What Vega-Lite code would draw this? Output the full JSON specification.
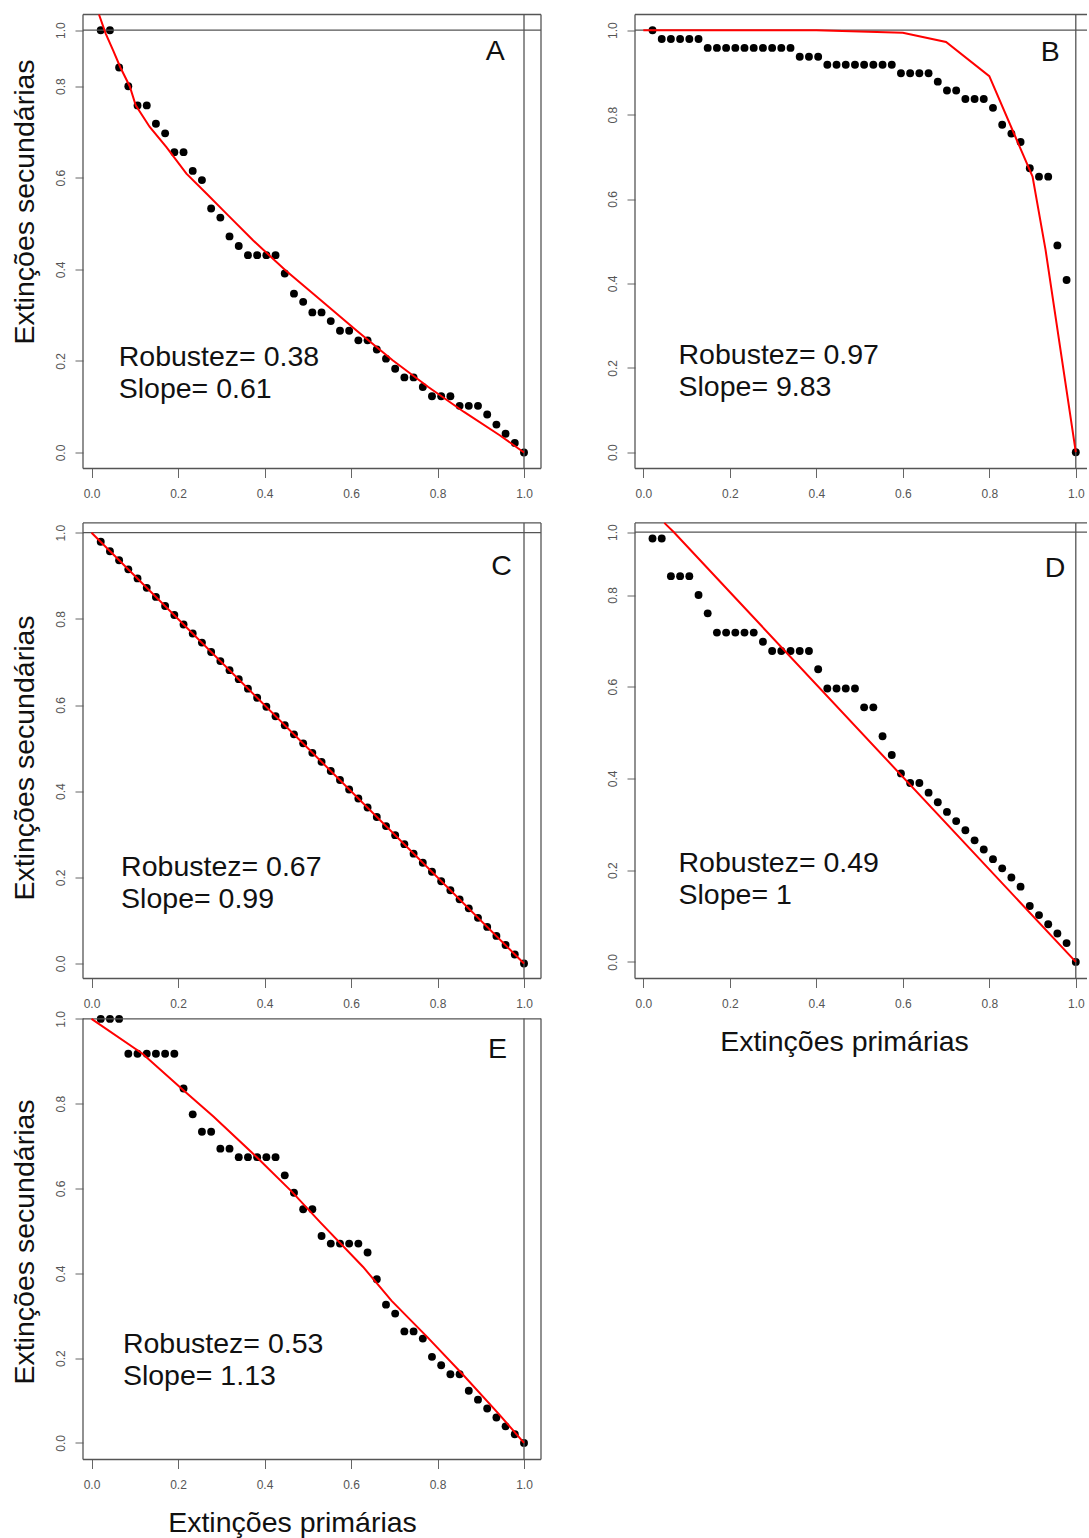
{
  "$schema": "https://vega.github.io/schema/vega-lite/v6.json",
  "background": "white",
  "padding": {"left": 10, "top": 10.5, "right": 0, "bottom": 0},
  "config": {
    "view": {"stroke": null},
    "font": "Liberation Sans",
    "axis": {"domain": false, "grid": false, "labelFont": "Liberation Sans", "labelFontSize": 12, "labelColor": "#555", "tickColor": "#666", "tickWidth": 1, "titleFont": "Liberation Sans", "titleFontSize": 28.5, "titleFontWeight": "normal", "titleColor": "#111", "labelFlush": false, "labelOverlap": false, "labelBound": false},
    "axisX": {"tickSize": 9, "labelPadding": 11, "labelAngle": 0},
    "axisY": {"tickSize": 8, "labelPadding": 8, "labelAngle": -90, "labelAlign": "center", "labelBaseline": "bottom"}
  },
  "datasets": {
    "A": [{"x":0.0213,"y":1},{"x":0.0426,"y":1},{"x":0.0638,"y":0.867},{"x":0.0851,"y":0.8},{"x":0.1064,"y":0.758},{"x":0.1277,"y":0.758},{"x":0.1489,"y":0.718},{"x":0.1702,"y":0.697},{"x":0.1915,"y":0.656},{"x":0.2128,"y":0.656},{"x":0.234,"y":0.615},{"x":0.2553,"y":0.595},{"x":0.2766,"y":0.533},{"x":0.2979,"y":0.513},{"x":0.3191,"y":0.472},{"x":0.3404,"y":0.451},{"x":0.3617,"y":0.431},{"x":0.383,"y":0.431},{"x":0.4043,"y":0.431},{"x":0.4255,"y":0.431},{"x":0.4468,"y":0.391},{"x":0.4681,"y":0.347},{"x":0.4894,"y":0.329},{"x":0.5106,"y":0.306},{"x":0.5319,"y":0.306},{"x":0.5532,"y":0.287},{"x":0.5745,"y":0.266},{"x":0.5957,"y":0.266},{"x":0.617,"y":0.245},{"x":0.6383,"y":0.245},{"x":0.6596,"y":0.225},{"x":0.6809,"y":0.205},{"x":0.7021,"y":0.183},{"x":0.7234,"y":0.164},{"x":0.7447,"y":0.164},{"x":0.766,"y":0.143},{"x":0.7872,"y":0.123},{"x":0.8085,"y":0.123},{"x":0.8298,"y":0.123},{"x":0.8511,"y":0.102},{"x":0.8723,"y":0.102},{"x":0.8936,"y":0.102},{"x":0.9149,"y":0.083},{"x":0.9362,"y":0.061},{"x":0.9574,"y":0.041},{"x":0.9787,"y":0.021},{"x":1,"y":0}],
    "A_fit": [{"x":0.0173,"y":1.056},{"x":0.0328,"y":0.988},{"x":0.0497,"y":0.9286},{"x":0.0668,"y":0.8668},{"x":0.0883,"y":0.8},{"x":0.1022,"y":0.7583},{"x":0.1346,"y":0.711},{"x":0.1732,"y":0.667},{"x":0.2194,"y":0.609},{"x":0.2657,"y":0.5655},{"x":0.3119,"y":0.5218},{"x":0.3734,"y":0.4635},{"x":0.4483,"y":0.398},{"x":0.531,"y":0.332},{"x":0.6134,"y":0.266},{"x":0.6962,"y":0.2015},{"x":0.7787,"y":0.143},{"x":0.8613,"y":0.0886},{"x":0.9438,"y":0.0378},{"x":1,"y":0}],
    "B": [{"x":0.0213,"y":1},{"x":0.0426,"y":0.979},{"x":0.0638,"y":0.979},{"x":0.0851,"y":0.979},{"x":0.1064,"y":0.979},{"x":0.1277,"y":0.979},{"x":0.1489,"y":0.958},{"x":0.1702,"y":0.958},{"x":0.1915,"y":0.958},{"x":0.2128,"y":0.958},{"x":0.234,"y":0.958},{"x":0.2553,"y":0.958},{"x":0.2766,"y":0.958},{"x":0.2979,"y":0.958},{"x":0.3191,"y":0.958},{"x":0.3404,"y":0.958},{"x":0.3617,"y":0.937},{"x":0.383,"y":0.937},{"x":0.4043,"y":0.937},{"x":0.4255,"y":0.918},{"x":0.4468,"y":0.918},{"x":0.4681,"y":0.918},{"x":0.4894,"y":0.918},{"x":0.5106,"y":0.918},{"x":0.5319,"y":0.918},{"x":0.5532,"y":0.918},{"x":0.5745,"y":0.918},{"x":0.5957,"y":0.898},{"x":0.617,"y":0.898},{"x":0.6383,"y":0.898},{"x":0.6596,"y":0.898},{"x":0.6809,"y":0.878},{"x":0.7021,"y":0.857},{"x":0.7234,"y":0.857},{"x":0.7447,"y":0.837},{"x":0.766,"y":0.837},{"x":0.7872,"y":0.837},{"x":0.8085,"y":0.816},{"x":0.8298,"y":0.776},{"x":0.8511,"y":0.755},{"x":0.8723,"y":0.735},{"x":0.8936,"y":0.673},{"x":0.9149,"y":0.653},{"x":0.9362,"y":0.653},{"x":0.9574,"y":0.49},{"x":0.9787,"y":0.408},{"x":1,"y":0}],
    "B_fit": [{"x":0,"y":1},{"x":0.1,"y":1},{"x":0.2,"y":1},{"x":0.3,"y":1},{"x":0.4,"y":1},{"x":0.5,"y":0.997},{"x":0.6,"y":0.994},{"x":0.7,"y":0.972},{"x":0.8,"y":0.891},{"x":0.9,"y":0.653},{"x":0.93,"y":0.48},{"x":1,"y":0}],
    "C": [{"x":0.0213,"y":0.979},{"x":0.0426,"y":0.957},{"x":0.0638,"y":0.936},{"x":0.0851,"y":0.915},{"x":0.1064,"y":0.894},{"x":0.1277,"y":0.872},{"x":0.1489,"y":0.851},{"x":0.1702,"y":0.83},{"x":0.1915,"y":0.809},{"x":0.2128,"y":0.787},{"x":0.234,"y":0.766},{"x":0.2553,"y":0.745},{"x":0.2766,"y":0.723},{"x":0.2979,"y":0.702},{"x":0.3191,"y":0.681},{"x":0.3404,"y":0.66},{"x":0.3617,"y":0.638},{"x":0.383,"y":0.617},{"x":0.4043,"y":0.596},{"x":0.4255,"y":0.574},{"x":0.4468,"y":0.553},{"x":0.4681,"y":0.532},{"x":0.4894,"y":0.511},{"x":0.5106,"y":0.489},{"x":0.5319,"y":0.468},{"x":0.5532,"y":0.447},{"x":0.5745,"y":0.426},{"x":0.5957,"y":0.404},{"x":0.617,"y":0.383},{"x":0.6383,"y":0.362},{"x":0.6596,"y":0.34},{"x":0.6809,"y":0.319},{"x":0.7021,"y":0.298},{"x":0.7234,"y":0.277},{"x":0.7447,"y":0.255},{"x":0.766,"y":0.234},{"x":0.7872,"y":0.213},{"x":0.8085,"y":0.191},{"x":0.8298,"y":0.17},{"x":0.8511,"y":0.149},{"x":0.8723,"y":0.128},{"x":0.8936,"y":0.106},{"x":0.9149,"y":0.085},{"x":0.9362,"y":0.064},{"x":0.9574,"y":0.043},{"x":0.9787,"y":0.021},{"x":1,"y":0}],
    "C_fit": [{"x":0,"y":1},{"x":1,"y":0}],
    "D": [{"x":0.0213,"y":0.98},{"x":0.0426,"y":0.98},{"x":0.0638,"y":0.86},{"x":0.0851,"y":0.86},{"x":0.1064,"y":0.86},{"x":0.1277,"y":0.8},{"x":0.1489,"y":0.76},{"x":0.1702,"y":0.718},{"x":0.1915,"y":0.718},{"x":0.2128,"y":0.718},{"x":0.234,"y":0.718},{"x":0.2553,"y":0.718},{"x":0.2766,"y":0.698},{"x":0.2979,"y":0.678},{"x":0.3191,"y":0.678},{"x":0.3404,"y":0.678},{"x":0.3617,"y":0.678},{"x":0.383,"y":0.678},{"x":0.4043,"y":0.638},{"x":0.4255,"y":0.596},{"x":0.4468,"y":0.596},{"x":0.4681,"y":0.596},{"x":0.4894,"y":0.596},{"x":0.5106,"y":0.555},{"x":0.5319,"y":0.555},{"x":0.5532,"y":0.492},{"x":0.5745,"y":0.451},{"x":0.5957,"y":0.411},{"x":0.617,"y":0.39},{"x":0.6383,"y":0.39},{"x":0.6596,"y":0.369},{"x":0.6809,"y":0.348},{"x":0.7021,"y":0.327},{"x":0.7234,"y":0.307},{"x":0.7447,"y":0.287},{"x":0.766,"y":0.265},{"x":0.7872,"y":0.245},{"x":0.8085,"y":0.224},{"x":0.8298,"y":0.204},{"x":0.8511,"y":0.184},{"x":0.8723,"y":0.164},{"x":0.8936,"y":0.122},{"x":0.9149,"y":0.102},{"x":0.9362,"y":0.082},{"x":0.9574,"y":0.062},{"x":0.9787,"y":0.041},{"x":1,"y":0}],
    "D_fit": [{"x":0.0486,"y":1.0299},{"x":0.0708,"y":1},{"x":0.2065,"y":0.8},{"x":1,"y":0}],
    "E": [{"x":0.0213,"y":1},{"x":0.0426,"y":1},{"x":0.0638,"y":1},{"x":0.0851,"y":0.918},{"x":0.1064,"y":0.918},{"x":0.1277,"y":0.918},{"x":0.1489,"y":0.918},{"x":0.1702,"y":0.918},{"x":0.1915,"y":0.918},{"x":0.2128,"y":0.836},{"x":0.234,"y":0.775},{"x":0.2553,"y":0.734},{"x":0.2766,"y":0.734},{"x":0.2979,"y":0.694},{"x":0.3191,"y":0.694},{"x":0.3404,"y":0.674},{"x":0.3617,"y":0.674},{"x":0.383,"y":0.674},{"x":0.4043,"y":0.674},{"x":0.4255,"y":0.674},{"x":0.4468,"y":0.631},{"x":0.4681,"y":0.59},{"x":0.4894,"y":0.551},{"x":0.5106,"y":0.551},{"x":0.5319,"y":0.488},{"x":0.5532,"y":0.47},{"x":0.5745,"y":0.47},{"x":0.5957,"y":0.47},{"x":0.617,"y":0.47},{"x":0.6383,"y":0.449},{"x":0.6596,"y":0.386},{"x":0.6809,"y":0.326},{"x":0.7021,"y":0.305},{"x":0.7234,"y":0.263},{"x":0.7447,"y":0.263},{"x":0.766,"y":0.246},{"x":0.7872,"y":0.203},{"x":0.8085,"y":0.183},{"x":0.8298,"y":0.162},{"x":0.8511,"y":0.162},{"x":0.8723,"y":0.123},{"x":0.8936,"y":0.102},{"x":0.9149,"y":0.081},{"x":0.9362,"y":0.06},{"x":0.9574,"y":0.039},{"x":0.9787,"y":0.0205},{"x":1,"y":0}],
    "E_fit": [{"x":0,"y":1},{"x":0.118,"y":0.918},{"x":0.2125,"y":0.832},{"x":0.2825,"y":0.769},{"x":0.381,"y":0.675},{"x":0.4636,"y":0.592},{"x":0.529,"y":0.52},{"x":0.628,"y":0.415},{"x":0.694,"y":0.335},{"x":0.776,"y":0.25},{"x":0.858,"y":0.162},{"x":0.941,"y":0.069},{"x":1,"y":0}]
  },
  "columns": 2,
  "bounds": "flush",
  "spacing": {"row": 40, "column": 94},
  "concat": [
    {
      "width": 458, "height": 454,
      "data": {"values": [{}]},
      "layer": [
        {"data": {"name": "A"}, "mark": {"type": "circle", "size": 62, "color": "#000", "opacity": 1},
         "encoding": {
           "x": {"field": "x", "type": "quantitative", "scale": {"domain": [-0.0197, 1.0393], "nice": false, "zero": false}, "axis": {"values": [0, 0.2, 0.4, 0.6, 0.8, 1], "format": ".1f", "title": null}},
           "y": {"field": "y", "type": "quantitative", "scale": {"domain": [-0.0349, 0.8, 1.0, 1.056], "range": [454, 71.7, 15.7, 0], "nice": false, "zero": false}, "axis": {"values": [0, 0.2, 0.4, 0.6, 0.8, 1], "format": ".1f", "title": "Extinções secundárias", "titleX": -50, "titleY": 187, "titleAlign": "center", "titleBaseline": "alphabetic"}}
         }},
        {"mark": {"type": "rule", "color": "#555", "strokeWidth": 1.3}, "encoding": {"x": {"datum": -0.0197}, "x2": {"datum": 1.0393}, "y": {"datum": 1.056}}},
        {"mark": {"type": "rule", "color": "#555", "strokeWidth": 1.3}, "encoding": {"x": {"datum": -0.0197}, "x2": {"datum": 1.0393}, "y": {"datum": -0.0349}}},
        {"mark": {"type": "rule", "color": "#555", "strokeWidth": 1.3}, "encoding": {"x": {"datum": -0.0197}, "y": {"datum": -0.0349}, "y2": {"datum": 1.056}}},
        {"mark": {"type": "rule", "color": "#555", "strokeWidth": 1.3}, "encoding": {"x": {"datum": 1.0393}, "y": {"datum": -0.0349}, "y2": {"datum": 1.056}}},
        {"mark": {"type": "rule", "color": "#555", "strokeWidth": 1.3}, "encoding": {"x": {"datum": -0.0197}, "x2": {"datum": 1.0393}, "y": {"datum": 1}}},
        {"mark": {"type": "rule", "color": "#555", "strokeWidth": 1.3}, "encoding": {"x": {"datum": 1}, "y": {"datum": -0.0349}, "y2": {"datum": 1.056}}},
        {"data": {"name": "A_fit"}, "mark": {"type": "line", "color": "#ff0000", "strokeWidth": 2}, "encoding": {"x": {"field": "x", "type": "quantitative"}, "y": {"field": "y", "type": "quantitative"}}},
        {"mark": {"type": "text", "align": "left", "baseline": "alphabetic", "fontSize": 28.5, "lineHeight": 32, "color": "#111"}, "encoding": {"x": {"datum": 0.0629}, "y": {"datum": 0.1884}, "text": {"value": ["Robustez= 0.38", "Slope= 0.61"]}}},
        {"mark": {"type": "text", "align": "center", "baseline": "alphabetic", "fontSize": 28.5, "color": "#111"}, "encoding": {"x": {"datum": 0.9334}, "y": {"datum": 0.893}, "text": {"value": "A"}}}
      ]
    },
    {
      "width": 452, "height": 454,
      "data": {"values": [{}]},
      "layer": [
        {"data": {"name": "B"}, "mark": {"type": "circle", "size": 62, "color": "#000", "opacity": 1},
         "encoding": {
           "x": {"field": "x", "type": "quantitative", "scale": {"domain": [-0.0192, 1.0259], "nice": false, "zero": false}, "axis": {"values": [0, 0.2, 0.4, 0.6, 0.8, 1], "format": ".1f", "title": null}},
           "y": {"field": "y", "type": "quantitative", "scale": {"domain": [-0.0386, 1.0372], "range": [454, 0], "nice": false, "zero": false}, "axis": {"values": [0, 0.2, 0.4, 0.6, 0.8, 1], "format": ".1f", "title": null}}
         }},
        {"mark": {"type": "rule", "color": "#555", "strokeWidth": 1.3}, "encoding": {"x": {"datum": -0.0192}, "x2": {"datum": 1.0259}, "y": {"datum": 1.0372}}},
        {"mark": {"type": "rule", "color": "#555", "strokeWidth": 1.3}, "encoding": {"x": {"datum": -0.0192}, "x2": {"datum": 1.0259}, "y": {"datum": -0.0386}}},
        {"mark": {"type": "rule", "color": "#555", "strokeWidth": 1.3}, "encoding": {"x": {"datum": -0.0192}, "y": {"datum": -0.0386}, "y2": {"datum": 1.0372}}},
        {"mark": {"type": "rule", "color": "#555", "strokeWidth": 1.3}, "encoding": {"x": {"datum": -0.0192}, "x2": {"datum": 1.0259}, "y": {"datum": 1}}},
        {"mark": {"type": "rule", "color": "#555", "strokeWidth": 1.3}, "encoding": {"x": {"datum": 1}, "y": {"datum": -0.0386}, "y2": {"datum": 1.0372}}},
        {"data": {"name": "B_fit"}, "mark": {"type": "line", "color": "#ff0000", "strokeWidth": 2}, "encoding": {"x": {"field": "x", "type": "quantitative"}, "y": {"field": "y", "type": "quantitative"}}},
        {"mark": {"type": "text", "align": "left", "baseline": "alphabetic", "fontSize": 28.5, "lineHeight": 32, "color": "#111"}, "encoding": {"x": {"datum": 0.0814}, "y": {"datum": 0.2085}, "text": {"value": ["Robustez= 0.97", "Slope= 9.83"]}}},
        {"mark": {"type": "text", "align": "center", "baseline": "alphabetic", "fontSize": 28.5, "color": "#111"}, "encoding": {"x": {"datum": 0.941}, "y": {"datum": 0.9265}, "text": {"value": "B"}}}
      ]
    },
    {
      "width": 458, "height": 470,
      "data": {"values": [{}]},
      "layer": [
        {"data": {"name": "C"}, "mark": {"type": "circle", "size": 62, "color": "#000", "opacity": 1},
         "encoding": {
           "x": {"field": "x", "type": "quantitative", "scale": {"domain": [-0.0197, 1.0393], "nice": false, "zero": false}, "axis": {"values": [0, 0.2, 0.4, 0.6, 0.8, 1], "format": ".1f", "title": null}},
           "y": {"field": "y", "type": "quantitative", "scale": {"domain": [-0.0348, 1.0562], "range": [470, 0], "nice": false, "zero": false}, "axis": {"values": [0, 0.2, 0.4, 0.6, 0.8, 1], "format": ".1f", "title": "Extinções secundárias", "titleX": -50, "titleY": 249, "titleAlign": "center", "titleBaseline": "alphabetic"}}
         }},
        {"mark": {"type": "rule", "color": "#555", "strokeWidth": 1.3}, "encoding": {"x": {"datum": -0.0197}, "x2": {"datum": 1.0393}, "y": {"datum": 1.0227}}},
        {"mark": {"type": "rule", "color": "#555", "strokeWidth": 1.3}, "encoding": {"x": {"datum": -0.0197}, "x2": {"datum": 1.0393}, "y": {"datum": -0.0348}}},
        {"mark": {"type": "rule", "color": "#555", "strokeWidth": 1.3}, "encoding": {"x": {"datum": -0.0197}, "y": {"datum": -0.0348}, "y2": {"datum": 1.0227}}},
        {"mark": {"type": "rule", "color": "#555", "strokeWidth": 1.3}, "encoding": {"x": {"datum": 1.0393}, "y": {"datum": -0.0348}, "y2": {"datum": 1.0227}}},
        {"mark": {"type": "rule", "color": "#555", "strokeWidth": 1.3}, "encoding": {"x": {"datum": -0.0197}, "x2": {"datum": 1.0393}, "y": {"datum": 1}}},
        {"mark": {"type": "rule", "color": "#555", "strokeWidth": 1.3}, "encoding": {"x": {"datum": 1}, "y": {"datum": -0.0348}, "y2": {"datum": 1.0227}}},
        {"data": {"name": "C_fit"}, "mark": {"type": "line", "color": "#ff0000", "strokeWidth": 2}, "encoding": {"x": {"field": "x", "type": "quantitative"}, "y": {"field": "y", "type": "quantitative"}}},
        {"mark": {"type": "text", "align": "left", "baseline": "alphabetic", "fontSize": 28.5, "lineHeight": 32, "color": "#111"}, "encoding": {"x": {"datum": 0.0684}, "y": {"datum": 0.2026}, "text": {"value": ["Robustez= 0.67", "Slope= 0.99"]}}},
        {"mark": {"type": "text", "align": "center", "baseline": "alphabetic", "fontSize": 28.5, "color": "#111"}, "encoding": {"x": {"datum": 0.948}, "y": {"datum": 0.9014}, "text": {"value": "C"}}}
      ]
    },
    {
      "width": 452, "height": 470,
      "data": {"values": [{}]},
      "layer": [
        {"data": {"name": "D"}, "mark": {"type": "circle", "size": 62, "color": "#000", "opacity": 1},
         "encoding": {
           "x": {"field": "x", "type": "quantitative", "scale": {"domain": [-0.0192, 1.0259], "nice": false, "zero": false}, "axis": {"values": [0, 0.2, 0.4, 0.6, 0.8, 1], "format": ".1f", "title": "Extinções primárias", "titleX": 209, "titleY": 72, "titleAlign": "center", "titleBaseline": "alphabetic"}},
           "y": {"field": "y", "type": "quantitative", "scale": {"domain": [-0.0362, 0.8, 1.0, 1.0761], "range": [470, 86.5, 23.7, 0], "nice": false, "zero": false}, "axis": {"values": [0, 0.2, 0.4, 0.6, 0.8, 1], "format": ".1f", "title": null}}
         }},
        {"mark": {"type": "rule", "color": "#555", "strokeWidth": 1.3}, "encoding": {"x": {"datum": -0.0192}, "x2": {"datum": 1.0259}, "y": {"datum": 1.0299}}},
        {"mark": {"type": "rule", "color": "#555", "strokeWidth": 1.3}, "encoding": {"x": {"datum": -0.0192}, "x2": {"datum": 1.0259}, "y": {"datum": -0.0362}}},
        {"mark": {"type": "rule", "color": "#555", "strokeWidth": 1.3}, "encoding": {"x": {"datum": -0.0192}, "y": {"datum": -0.0362}, "y2": {"datum": 1.0299}}},
        {"mark": {"type": "rule", "color": "#555", "strokeWidth": 1.3}, "encoding": {"x": {"datum": -0.0192}, "x2": {"datum": 1.0259}, "y": {"datum": 1}}},
        {"mark": {"type": "rule", "color": "#555", "strokeWidth": 1.3}, "encoding": {"x": {"datum": 1}, "y": {"datum": -0.0362}, "y2": {"datum": 1.0299}}},
        {"data": {"name": "D_fit"}, "mark": {"type": "line", "color": "#ff0000", "strokeWidth": 2}, "encoding": {"x": {"field": "x", "type": "quantitative"}, "y": {"field": "y", "type": "quantitative"}}},
        {"mark": {"type": "text", "align": "left", "baseline": "alphabetic", "fontSize": 28.5, "lineHeight": 32, "color": "#111"}, "encoding": {"x": {"datum": 0.0814}, "y": {"datum": 0.1956}, "text": {"value": ["Robustez= 0.49", "Slope= 1"]}}},
        {"mark": {"type": "text", "align": "center", "baseline": "alphabetic", "fontSize": 28.5, "color": "#111"}, "encoding": {"x": {"datum": 0.952}, "y": {"datum": 0.858}, "text": {"value": "D"}}}
      ]
    },
    {
      "width": 458, "height": 441,
      "data": {"values": [{}]},
      "layer": [
        {"data": {"name": "E"}, "mark": {"type": "circle", "size": 62, "color": "#000", "opacity": 1},
         "encoding": {
           "x": {"field": "x", "type": "quantitative", "scale": {"domain": [-0.0197, 1.0393], "nice": false, "zero": false}, "axis": {"values": [0, 0.2, 0.4, 0.6, 0.8, 1], "format": ".1f", "title": "Extinções primárias", "titleX": 209, "titleY": 72, "titleAlign": "center", "titleBaseline": "alphabetic"}},
           "y": {"field": "y", "type": "quantitative", "scale": {"domain": [-0.0392, 1.001], "range": [441, 0], "nice": false, "zero": false}, "axis": {"values": [0, 0.2, 0.4, 0.6, 0.8, 1], "format": ".1f", "title": "Extinções secundárias", "titleX": -50, "titleY": 223, "titleAlign": "center", "titleBaseline": "alphabetic"}}
         }},
        {"mark": {"type": "rule", "color": "#555", "strokeWidth": 1.3}, "encoding": {"x": {"datum": -0.0197}, "x2": {"datum": 1.0393}, "y": {"datum": -0.0392}}},
        {"mark": {"type": "rule", "color": "#555", "strokeWidth": 1.3}, "encoding": {"x": {"datum": -0.0197}, "y": {"datum": -0.0392}, "y2": {"datum": 1.001}}},
        {"mark": {"type": "rule", "color": "#555", "strokeWidth": 1.3}, "encoding": {"x": {"datum": 1.0393}, "y": {"datum": -0.0392}, "y2": {"datum": 1.001}}},
        {"mark": {"type": "rule", "color": "#555", "strokeWidth": 1.3}, "encoding": {"x": {"datum": -0.0197}, "x2": {"datum": 1.0393}, "y": {"datum": 1}}},
        {"mark": {"type": "rule", "color": "#555", "strokeWidth": 1.3}, "encoding": {"x": {"datum": 1}, "y": {"datum": -0.0392}, "y2": {"datum": 1.001}}},
        {"data": {"name": "E_fit"}, "mark": {"type": "line", "color": "#ff0000", "strokeWidth": 2}, "encoding": {"x": {"field": "x", "type": "quantitative"}, "y": {"field": "y", "type": "quantitative"}}},
        {"mark": {"type": "text", "align": "left", "baseline": "alphabetic", "fontSize": 28.5, "lineHeight": 32, "color": "#111"}, "encoding": {"x": {"datum": 0.0726}, "y": {"datum": 0.2116}, "text": {"value": ["Robustez= 0.53", "Slope= 1.13"]}}},
        {"mark": {"type": "text", "align": "center", "baseline": "alphabetic", "fontSize": 28.5, "color": "#111"}, "encoding": {"x": {"datum": 0.939}, "y": {"datum": 0.9085}, "text": {"value": "E"}}}
      ]
    }
  ]
}
